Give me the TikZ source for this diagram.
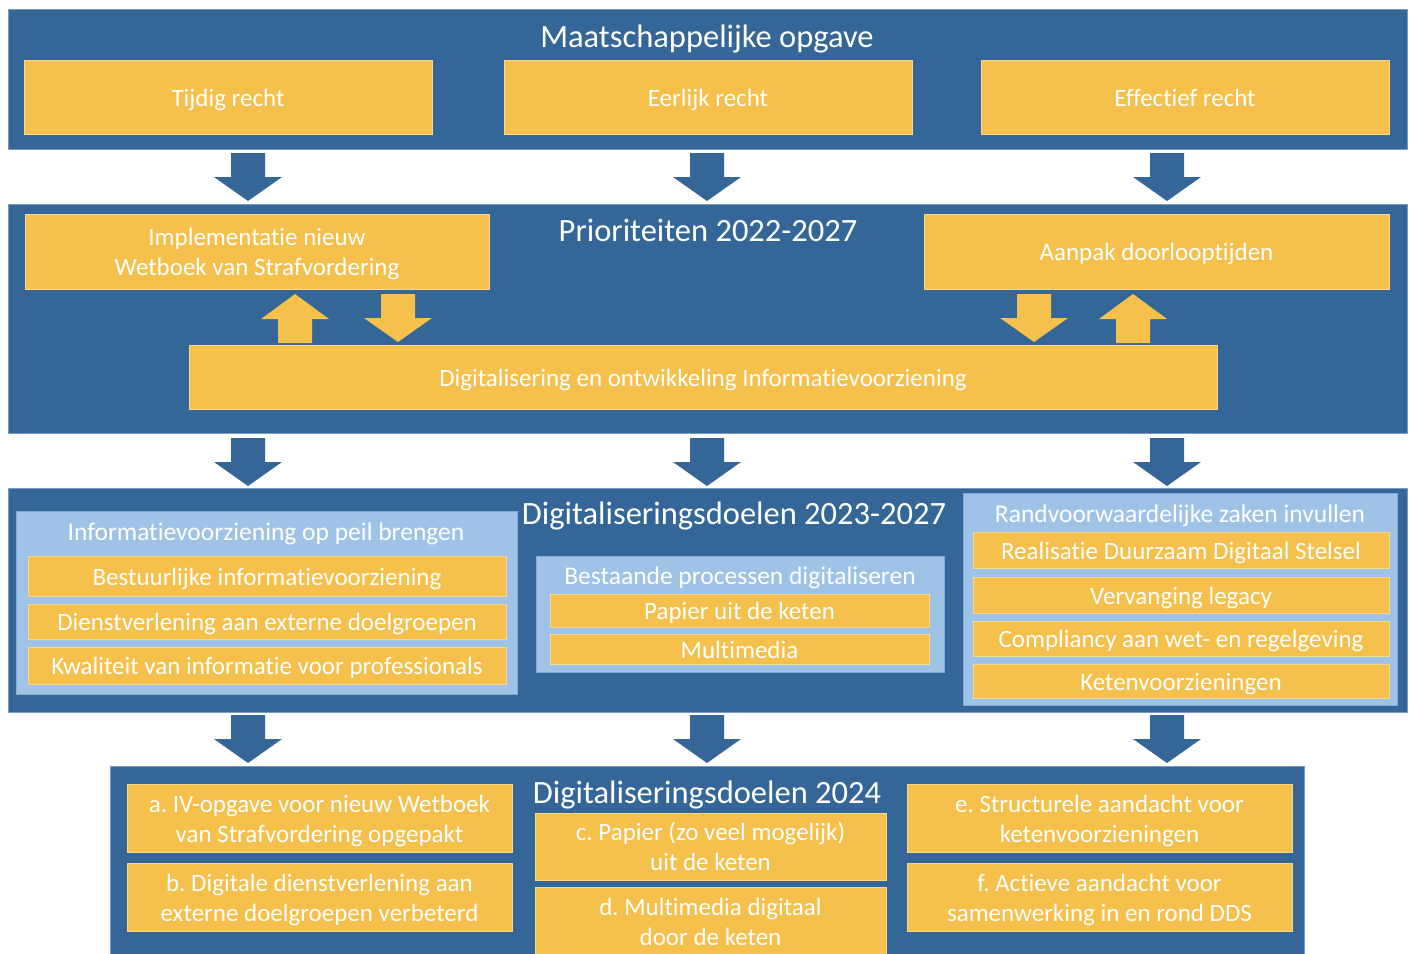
\documentclass[tikz,border=0pt]{standalone}
\usepackage{fontspec}
\setmainfont{Carlito}[Ligatures=NoCommon]
\frenchspacing
\definecolor{band}{RGB}{52,103,152}
\definecolor{bandedge}{RGB}{120,155,195}
\definecolor{gold}{RGB}{245,193,76}
\definecolor{goldedge}{RGB}{250,215,140}
\definecolor{pale}{RGB}{158,195,230}
\definecolor{paleedge}{RGB}{130,170,210}
\tikzset{
  bandbox/.style={fill=band, draw=bandedge, line width=0.8pt},
  goldbox/.style={fill=gold, draw=goldedge, line width=0.6pt, text=white, align=center, text height=18pt, text depth=0pt},
  twoline/.style={text height=48pt, text depth=0pt},
  palebox/.style={fill=pale, draw=paleedge, line width=0.6pt},
  titletext/.style={text=white, font=\fontsize{32.5}{36}\selectfont, inner sep=0pt, anchor=base},
  headtext/.style={text=white, font=\fontsize{25.5}{28}\selectfont, inner sep=0pt, anchor=base},
  boxfont/.style={font=\fontsize{25}{30}\selectfont},
  rowfont/.style={font=\fontsize{25}{28}\selectfont},
  pics/downarrow/.style={code={\fill[#1] (-17,0) -- (17,0) -- (17,24) -- (34,24) -- (0,48) -- (-34,24) -- (-17,24) -- cycle;}},
  pics/uparrow/.style={code={\fill[#1] (-17,49) -- (17,49) -- (17,25) -- (34,25) -- (0,0) -- (-34,25) -- (-17,25) -- cycle;}},
}
% \yb{style}{name}{x1}{y1}{x2}{y2}{text}
\newcommand{\yb}[7]{\node[#1, inner sep=0pt, minimum width={(#5-#3)*1pt}, minimum height={(#6-#4)*1pt}] (#2) at ({(#3+#5)/2},{(#4+#6)/2}) {#7};}
\begin{document}
\begin{tikzpicture}[x=1pt,y=-1pt]
\useasboundingbox (0,0) rectangle (1412,953);
\fill[white] (0,0) rectangle (1412,953);
% ---------- band 1
\yb{bandbox}{b1}{8}{9}{1407}{149}{}
\node[titletext] (t1) at (707,47) {Maatschappelijke opgave};
\yb{goldbox,boxfont}{tijdig}{24}{60}{432}{134}{Tijdig recht}
\yb{goldbox,boxfont}{eerlijk}{504}{60}{912}{134}{Eerlijk recht}
\yb{goldbox,boxfont}{effectief}{981}{60}{1389}{134}{Effectief recht}
% arrows 1->2
\coordinate (a1l) at (248,153);
\coordinate (a1m) at (707,153);
\coordinate (a1r) at (1167,153);
\pic at (a1l) {downarrow=band};
\pic at (a1m) {downarrow=band};
\pic at (a1r) {downarrow=band};
% ---------- band 2
\yb{bandbox}{b2}{8}{204}{1407}{433}{}
\node[titletext] (t2) at (708,241) {Prioriteiten 2022-2027};
\yb{goldbox,twoline,boxfont}{impl}{25}{214}{489}{289}{Implementatie nieuw\\Wetboek van Strafvordering}
\yb{goldbox,boxfont}{aanpak}{924}{214}{1389}{289}{Aanpak doorlooptijden}
\yb{goldbox,boxfont}{digi}{189}{345}{1217}{409}{Digitalisering en ontwikkeling Informatievoorziening}
\coordinate (ua1) at (295,294);
\coordinate (da1) at (398,294);
\coordinate (da2) at (1034,294);
\coordinate (ua2) at (1133,294);
\pic at (ua1) {uparrow=gold};
\pic at (da1) {downarrow=gold};
\pic at (da2) {downarrow=gold};
\pic at (ua2) {uparrow=gold};
% arrows 2->3
\coordinate (a2l) at (248,438);
\coordinate (a2m) at (707,438);
\coordinate (a2r) at (1167,438);
\pic at (a2l) {downarrow=band};
\pic at (a2m) {downarrow=band};
\pic at (a2r) {downarrow=band};
% ---------- band 3
\yb{bandbox}{b3}{8}{488}{1407}{712}{}
\node[titletext] (t3) at (734,524) {Digitaliseringsdoelen 2023-2027};
% left panel
\yb{palebox}{p1}{16}{511}{517}{694}{}
\node[headtext] (h1) at (266,540) {Informatievoorziening op peil brengen};
\yb{goldbox,rowfont}{r11}{28}{556}{506}{596}{Bestuurlijke informatievoorziening}
\yb{goldbox,rowfont}{r12}{28}{604}{506}{639}{Dienstverlening aan externe doelgroepen}
\yb{goldbox,rowfont}{r13}{28}{647}{506}{684}{Kwaliteit van informatie voor professionals}
% middle panel
\yb{palebox}{p2}{536}{556}{944}{672}{}
\node[headtext] (h2) at (740,584) {Bestaande processen digitaliseren};
\yb{goldbox,rowfont}{r21}{550}{594}{929}{627}{Papier uit de keten}
\yb{goldbox,rowfont}{r22}{550}{634}{929}{664}{Multimedia}
% right panel
\yb{palebox}{p3}{963}{493}{1397}{705}{}
\node[headtext] (h3) at (1180,522) {Randvoorwaardelijke zaken invullen};
\yb{goldbox,rowfont}{r31}{973}{532}{1389}{568}{Realisatie Duurzaam Digitaal Stelsel}
\yb{goldbox,rowfont}{r32}{973}{577}{1389}{613}{Vervanging legacy}
\yb{goldbox,rowfont}{r33}{973}{621}{1389}{656}{Compliancy aan wet- en regelgeving}
\yb{goldbox,rowfont}{r34}{973}{664}{1389}{698}{Ketenvoorzieningen}
% arrows 3->4
\coordinate (a3l) at (248,715);
\coordinate (a3m) at (707,715);
\coordinate (a3r) at (1167,715);
\pic at (a3l) {downarrow=band};
\pic at (a3m) {downarrow=band};
\pic at (a3r) {downarrow=band};
% ---------- band 4
\yb{bandbox}{b4}{110}{766}{1304}{970}{}
\node[titletext] (t4) at (707,803) {Digitaliseringsdoelen 2024};
\yb{goldbox,twoline,boxfont}{ga}{127}{784}{512}{852}{a. IV-opgave voor nieuw Wetboek\\van Strafvordering opgepakt}
\yb{goldbox,twoline,boxfont}{gb}{127}{863}{512}{931}{b. Digitale dienstverlening aan\\externe doelgroepen verbeterd}
\yb{goldbox,twoline,boxfont}{gc}{535}{813}{886}{880}{c. Papier (zo veel mogelijk)\\uit de keten}
\yb{goldbox,twoline,boxfont}{gd}{535}{887}{886}{955}{d. Multimedia digitaal\\door de keten}
\yb{goldbox,twoline,boxfont}{ge}{907}{784}{1292}{852}{e. Structurele aandacht voor\\ketenvoorzieningen}
\yb{goldbox,twoline,boxfont}{gf}{907}{863}{1292}{931}{f. Actieve aandacht voor\\samenwerking in en rond DDS}
\end{tikzpicture}
\end{document}
